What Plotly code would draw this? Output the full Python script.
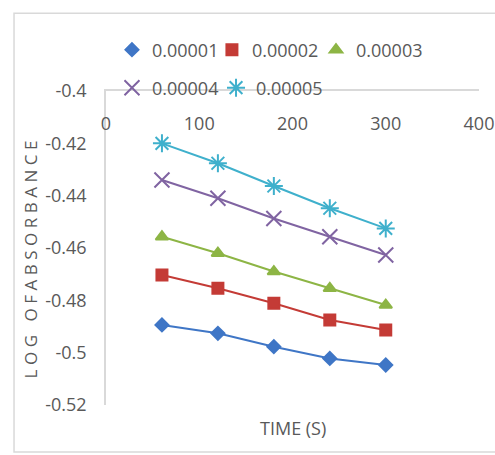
import plotly.graph_objects as go

time_s = [60, 120, 180, 240, 300]
series_names = ["0.00001", "0.00002", "0.00003", "0.00004", "0.00005"]
s1 = [-0.4894, -0.4926, -0.4977, -0.5022, -0.5047]
s2 = [-0.4703, -0.4754, -0.4811, -0.4875, -0.4913]
s3 = [-0.4557, -0.4620, -0.4690, -0.4754, -0.4818]
s4 = [-0.4340, -0.4410, -0.4487, -0.4557, -0.4627]
s5 = [-0.4200, -0.4276, -0.4363, -0.4448, -0.4525]
y_tick_vals = [-0.4, -0.42, -0.44, -0.46, -0.48, -0.5, -0.52]
y_tick_text = ["-0.4", "-0.42", "-0.44", "-0.46", "-0.48", "-0.5", "-0.52"]
x_tick_vals = [0, 100, 200, 300, 400]

colors = ["#3F76C6", "#C43B36", "#8DB545", "#8064A2", "#3FB0CC"]
symbols = ["diamond", "square", "triangle-up", "x-thin-open", "asterisk-open"]
sizes = [10, 11, 11, 15, 15]
legend_ids = ["legend", "legend2", "legend3", "legend4", "legend5"]
# legend item placement (paper coordinates)
legend_x = [0.016, 0.284, 0.563, 0.016, 0.295]
legend_y = [1.1306, 1.1306, 1.1306, 1.0096, 1.0096]

FONT = "Open Sans, sans-serif"
GRAY = "#595959"
AXC = "#d9d9d9"

fig = go.Figure()
for name, ys, c, sym, sz, lg in zip(series_names, [s1, s2, s3, s4, s5], colors, symbols, sizes, legend_ids):
    fig.add_trace(go.Scatter(
        x=time_s, y=ys, name=name, mode="lines+markers",
        line=dict(color=c, width=2),
        marker=dict(symbol=sym, size=sz, color=c, line=dict(color=c, width=2)),
        showlegend=False, legendgroup=name,
    ))
    # legend-only entry (marker only, as in the reference legend)
    fig.add_trace(go.Scatter(
        x=[None], y=[None], name=name, mode="markers",
        marker=dict(symbol=sym, size=sz, color=c, line=dict(color=c, width=2)),
        legend=lg, legendgroup=name, showlegend=True,
    ))

legend_layout = {}
for lg, lx, ly in zip(legend_ids, legend_x, legend_y):
    legend_layout[lg] = dict(orientation="h", x=lx, y=ly, xanchor="left", yanchor="middle",
                             font=dict(size=18, color=GRAY), bgcolor="rgba(0,0,0,0)",
                             itemclick=False, itemdoubleclick=False)

fig.update_layout(
    width=495, height=455,
    margin=dict(l=106, r=16, t=91, b=50, autoexpand=False),
    paper_bgcolor="white", plot_bgcolor="white",
    font=dict(family=FONT, color=GRAY, size=18),
    xaxis=dict(range=[0, 400], tickvals=x_tick_vals, side="top",
               showticklabels=False, showline=True, linecolor=AXC,
               linewidth=1.5, showgrid=False, zeroline=False, ticks="",
               automargin=False),
    xaxis2=dict(range=[0, 400], tickvals=x_tick_vals, overlaying="x", matches="x",
                anchor="free", position=1, side="bottom", showline=False,
                showgrid=False, zeroline=False, ticks="", ticklabelstandoff=20,
                tickfont=dict(size=18, color=GRAY), automargin=False),
    yaxis=dict(range=[-0.52, -0.4], tickvals=y_tick_vals, ticktext=y_tick_text,
               showline=True, linecolor=AXC, linewidth=1.5,
               showgrid=False, zeroline=False, ticks="", ticklabelstandoff=14,
               tickfont=dict(size=18, color=GRAY), automargin=False),
    showlegend=True,
    annotations=[
        dict(text="TIME (S)", xref="paper", yref="paper", x=0.5, y=-0.073,
             xanchor="center", yanchor="middle", showarrow=False,
             font=dict(size=18, color=GRAY)),
        dict(text="LOG OFABSORBANCE", xref="paper", yref="paper", x=-0.203, y=0.471,
             xanchor="center", yanchor="middle", showarrow=False, textangle=-90,
             font=dict(size=17, color=GRAY)),
    ],
    shapes=[dict(type="rect", xref="paper", yref="paper",
                 x0=-0.2466, x1=1.06, y0=-0.1497, y1=1.248,
                 line=dict(color=AXC, width=1.5), layer="below")],
    **legend_layout,
)

# dummy trace so the overlay axis xaxis2 is drawn
fig.add_trace(go.Scatter(x=[None], y=[None], xaxis="x2", showlegend=False, hoverinfo="skip"))

post = """
document.body.style.margin = '0';
document.querySelectorAll('.annotation-text').forEach(function(t){
  if (t.textContent === 'LOG OFABSORBANCE') { t.style.letterSpacing = '4.5px'; }
});
"""
fig.write_html("out.html", post_script=post, config={"displayModeBar": False})
